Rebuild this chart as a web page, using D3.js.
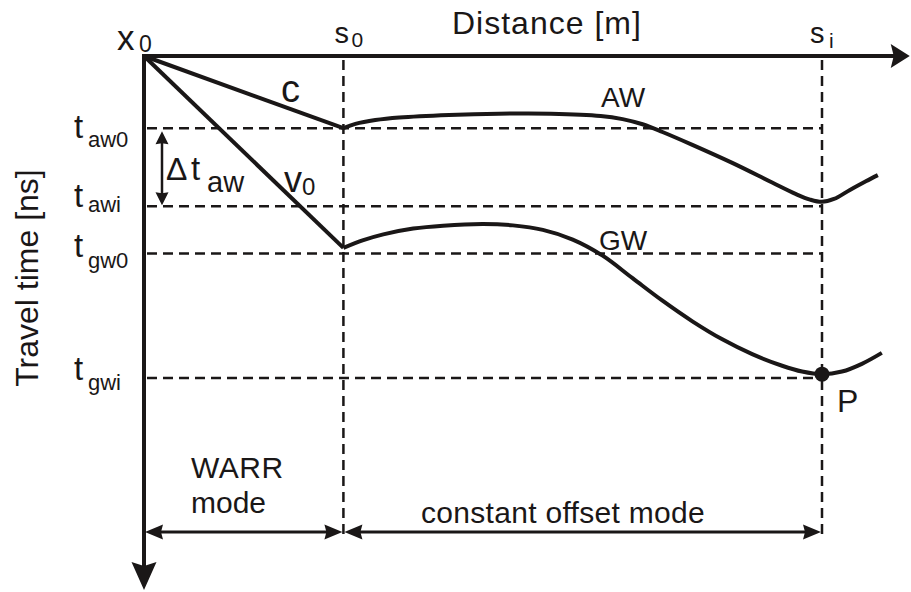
<!DOCTYPE html>
<html>
<head>
<meta charset="utf-8">
<script src="https://cdn.jsdelivr.net/npm/d3@7"></script>
<style>
  html, body { margin: 0; background: #fff; }
  svg { display: block; }
  text { font-family: "Liberation Sans", Arial, Helvetica, sans-serif; fill: #1a1717; }
</style>
</head>
<body>
<svg id="chart" width="911" height="592"></svg>
<script>
// Offsets along the profile (distance units) and travel times (time units)
const s0 = 100;
const si = 340;
const distanceMax = 384;
const timeMax = 165.8;

// Straight moveouts from the transmitter position x0
const directAirLine = [[0, 0], [100, 22.4]];
const directGroundLine = [[0, 0], [100, 59.6]];

// Air wave (AW) travel time along the constant-offset section
const airWave = [
  [100, 22.4], [106, 21.1], [116, 19.9], [128, 19.1], [153, 18.3],
  [178, 17.9], [204, 17.9], [229, 18.6], [240, 19.6], [250, 21.2],
  [260, 23.6], [275, 27.6], [295, 33.2], [315, 39.3], [327, 42.9],
  [334, 44.6], [340, 45.3], [346, 44.4], [354, 41.6], [362, 38.9], [368, 37.0]
];

// Ground wave (GW) travel time along the constant-offset section
const groundWave = [
  [100, 59.6], [110, 57.2], [120, 55.4], [135, 53.6], [150, 52.7],
  [170, 52.2], [185, 52.6], [200, 54.0], [215, 57.0], [230, 62.0],
  [245, 69.0], [260, 76.0], [275, 82.4], [290, 88.0], [305, 92.6],
  [320, 96.2], [330, 98.0], [340, 98.8], [350, 98.0], [360, 95.6], [370, 92.2]
];

// Reference travel times and their subscripts
const timeLevels = [22.4, 46.7, 61.3, 100];
const timeSubscripts = ["aw0", "awi", "gw0", "gwi"];
const pointP = [340, 98.8];
const dimensionTime = 147.8;
const guideEndTime = 150;

const ink = "#1a1717";
const svg = d3.select("#chart");

const x = d3.scaleLinear().domain([0, si]).range([144, 822]);
const y = d3.scaleLinear().domain([0, 100]).range([56, 378]);

// Arrowhead pointing along (dx, dy) with its tip at (tx, ty)
function arrowHead(tx, ty, dx, dy, len, half, notch) {
  const px = -dy, py = dx;
  const bx = tx - dx * len, by = ty - dy * len;
  const nx = tx - dx * (len - notch), ny = ty - dy * (len - notch);
  return `M${tx},${ty}L${bx + px * half},${by + py * half}L${nx},${ny}L${bx - px * half},${by - py * half}Z`;
}

// Dashed guide lines
const guides = svg.append("g")
  .attr("stroke", ink).attr("stroke-width", 2.5).attr("stroke-dasharray", "10,6").attr("fill", "none");
guides.selectAll("line.h").data(timeLevels).join("line")
  .attr("class", "h")
  .attr("x1", x(0) + 3).attr("x2", x(si))
  .attr("y1", d => y(d)).attr("y2", d => y(d));
guides.selectAll("line.v").data([s0, si]).join("line")
  .attr("class", "v")
  .attr("x1", d => x(d)).attr("x2", d => x(d))
  .attr("y1", y(0) + 4).attr("y2", y(guideEndTime));

// Axes with arrowheads
const axes = svg.append("g");
axes.append("line")
  .attr("x1", x(0)).attr("x2", x(distanceMax) - 12)
  .attr("y1", y(0)).attr("y2", y(0))
  .attr("stroke", ink).attr("stroke-width", 4);
axes.append("path")
  .attr("d", arrowHead(x(distanceMax), y(0), 1, 0, 19, 12, 3))
  .attr("fill", ink);
axes.append("line")
  .attr("x1", x(0)).attr("x2", x(0))
  .attr("y1", y(0) - 2).attr("y2", y(timeMax) - 16)
  .attr("stroke", ink).attr("stroke-width", 4);
axes.append("path")
  .attr("d", arrowHead(x(0), y(timeMax), 0, 1, 28, 12.5, 4))
  .attr("fill", ink);

// Moveout lines and wave curves
const straight = d3.line().x(d => x(d[0])).y(d => y(d[1]));
const smooth = d3.line().x(d => x(d[0])).y(d => y(d[1])).curve(d3.curveCatmullRom.alpha(0.5));
const curves = svg.append("g").attr("fill", "none").attr("stroke", ink)
  .attr("stroke-width", 4).attr("stroke-linejoin", "miter");
curves.append("path").attr("d", straight(directAirLine));
curves.append("path").attr("d", straight(directGroundLine));
curves.append("path").attr("d", smooth(airWave));
curves.append("path").attr("d", smooth(groundWave));

svg.append("circle")
  .attr("cx", x(pointP[0])).attr("cy", y(pointP[1])).attr("r", 7.5)
  .attr("fill", ink);

// Delta t_aw dimension arrow
const dX = 162;
const dTop = y(timeLevels[0]) + 3, dBot = y(timeLevels[1]) - 1;
svg.append("line")
  .attr("x1", dX).attr("x2", dX).attr("y1", dTop + 10).attr("y2", dBot - 10)
  .attr("stroke", ink).attr("stroke-width", 2.5);
svg.append("path").attr("d", arrowHead(dX, dTop, 0, -1, 13, 6.5, 1)).attr("fill", ink);
svg.append("path").attr("d", arrowHead(dX, dBot, 0, 1, 13, 6.5, 1)).attr("fill", ink);

// Mode extent arrows
const dimY = y(dimensionTime);
[[0, s0], [s0, si]].forEach(([a, b]) => {
  svg.append("line")
    .attr("x1", x(a) + 10).attr("x2", x(b) - 10).attr("y1", dimY).attr("y2", dimY)
    .attr("stroke", ink).attr("stroke-width", 3);
  svg.append("path").attr("d", arrowHead(x(a) + 1, dimY, -1, 0, 18, 7.5, 2)).attr("fill", ink);
  svg.append("path").attr("d", arrowHead(x(b) - 1, dimY, 1, 0, 18, 7.5, 2)).attr("fill", ink);
});

// Labels
function label(parts) {
  const t = svg.append("text");
  parts.forEach(p => {
    t.append("tspan").attr("x", p.x).attr("y", p.y).attr("font-size", p.size)
      .attr("letter-spacing", p.ls || 0).text(p.text);
  });
  return t;
}

label([{ text: "x", x: 117, y: 50, size: 35 }, { text: "0", x: 139, y: 52, size: 23 }]);
label([{ text: "s", x: x(s0) - 9, y: 43, size: 29 }, { text: "0", x: x(s0) + 8, y: 47, size: 21 }]);
label([{ text: "s", x: x(si) - 12, y: 43, size: 29 }, { text: "i", x: x(si) + 7, y: 48, size: 21 }]);
label([{ text: "Distance [m]", x: 452, y: 34, size: 32, ls: 1 }]);

const timeLabelOffsets = [[9.5, 18.5], [0.5, 5.5], [4, 15], [2, 12]];
timeLevels.forEach((t, i) => {
  const base = y(t);
  label([
    { text: "t", x: 74, y: base + timeLabelOffsets[i][0], size: 33 },
    { text: timeSubscripts[i], x: 88, y: base + timeLabelOffsets[i][1], size: 22 }
  ]);
});

label([
  { text: "\u0394", x: 166, y: 180, size: 32 },
  { text: "t", x: 191, y: 180, size: 33 },
  { text: "aw", x: 207, y: 192, size: 29 }
]);

label([{ text: "c", x: 281, y: 102, size: 38 }]);
label([{ text: "v", x: 284, y: 192, size: 36 }, { text: "0", x: 302, y: 195, size: 24 }]);
label([{ text: "AW", x: 601, y: 107, size: 28 }]);
label([{ text: "GW", x: 599, y: 250, size: 28 }]);
label([{ text: "P", x: x(pointP[0]) + 15, y: 412, size: 32 }]);

label([{ text: "WARR", x: 191, y: 478, size: 30, ls: 0.5 }]);
label([{ text: "mode", x: 191, y: 513, size: 30 }]);
label([{ text: "constant offset mode", x: 421, y: 523, size: 30, ls: 0.3 }]);

svg.append("text")
  .attr("transform", "translate(38,278) rotate(-90)")
  .attr("text-anchor", "middle")
  .attr("font-size", 32)
  .text("Travel time [ns]");
</script>
</body>
</html>
